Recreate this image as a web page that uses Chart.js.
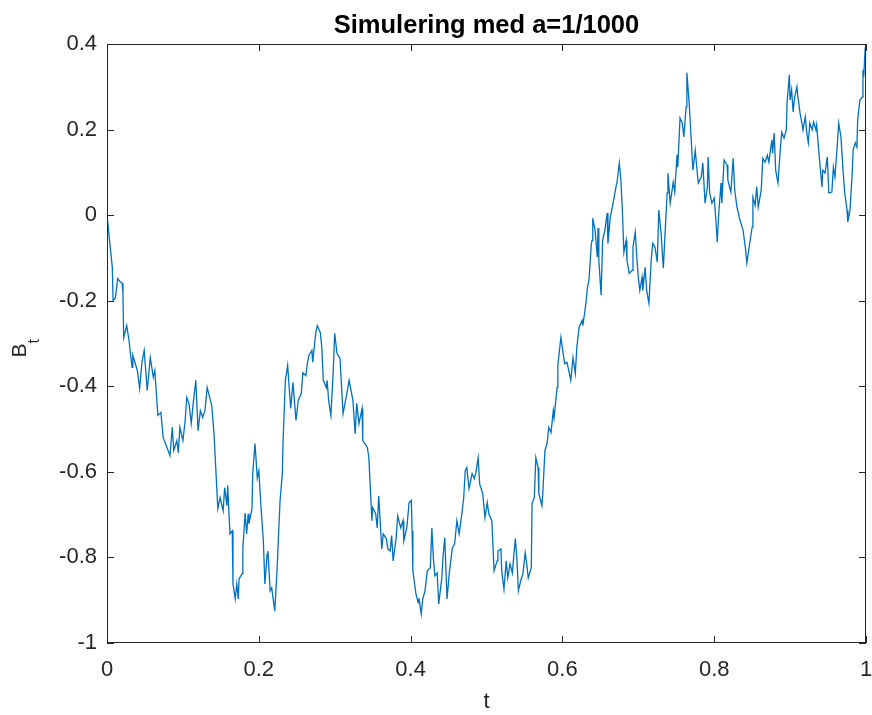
<!DOCTYPE html>
<html>
<head>
<meta charset="utf-8">
<title>Simulering med a=1/1000</title>
<script src="https://cdn.jsdelivr.net/npm/chart.js@4/dist/chart.umd.min.js"></script>
<style>
  html, body { margin: 0; padding: 0; background: #fff; }
  canvas { display: block; }
</style>
</head>
<body>
<canvas id="myChart" width="872" height="715"></canvas>
<script>
// values (t on x, B_t on y)
var tVals = [
  0.000, 0.004, 0.007, 0.008, 0.011, 0.014, 0.017, 0.020, 0.021, 0.022,
  0.026, 0.029, 0.033, 0.034, 0.040, 0.043, 0.046, 0.049, 0.053, 0.057,
  0.061, 0.063, 0.067, 0.071, 0.074, 0.079, 0.083, 0.086, 0.088, 0.092,
  0.094, 0.096, 0.100, 0.103, 0.105, 0.108, 0.111, 0.113, 0.117, 0.120,
  0.123, 0.126, 0.129, 0.132, 0.134, 0.138, 0.141, 0.146, 0.149, 0.153,
  0.155, 0.158, 0.159, 0.162, 0.165, 0.166, 0.169, 0.171, 0.173, 0.174,
  0.178, 0.179, 0.182, 0.184, 0.186, 0.187, 0.191, 0.192, 0.195, 0.198,
  0.200, 0.203, 0.206, 0.208, 0.211, 0.212, 0.215, 0.217, 0.221, 0.224,
  0.228, 0.231, 0.232, 0.235, 0.238, 0.242, 0.245, 0.249, 0.252, 0.256,
  0.258, 0.262, 0.264, 0.266, 0.270, 0.271, 0.275, 0.277, 0.281, 0.283,
  0.285, 0.289, 0.290, 0.292, 0.295, 0.298, 0.300, 0.303, 0.307, 0.311,
  0.316, 0.319, 0.324, 0.327, 0.329, 0.332, 0.336, 0.337, 0.343, 0.345,
  0.349, 0.350, 0.354, 0.356, 0.358, 0.362, 0.364, 0.368, 0.370, 0.373,
  0.375, 0.377, 0.381, 0.383, 0.387, 0.390, 0.391, 0.395, 0.398, 0.401,
  0.402, 0.403, 0.407, 0.410, 0.411, 0.414, 0.416, 0.419, 0.422, 0.426,
  0.428, 0.430, 0.432, 0.435, 0.437, 0.441, 0.443, 0.445, 0.448, 0.451,
  0.455, 0.458, 0.461, 0.464, 0.468, 0.470, 0.472, 0.474, 0.477, 0.481,
  0.484, 0.486, 0.489, 0.491, 0.495, 0.498, 0.501, 0.503, 0.507, 0.510,
  0.514, 0.515, 0.519, 0.520, 0.523, 0.526, 0.528, 0.531, 0.534, 0.538,
  0.540, 0.542, 0.545, 0.548, 0.551, 0.553, 0.555, 0.559, 0.560, 0.563,
  0.565, 0.568, 0.569, 0.573, 0.574, 0.577, 0.580, 0.582, 0.585, 0.588,
  0.589, 0.593, 0.594, 0.598, 0.601, 0.603, 0.606, 0.609, 0.611, 0.614,
  0.617, 0.619, 0.622, 0.626, 0.627, 0.631, 0.633, 0.635, 0.638, 0.639,
  0.640, 0.643, 0.646, 0.647, 0.648, 0.651, 0.653, 0.656, 0.659, 0.660,
  0.663, 0.665, 0.668, 0.671, 0.672, 0.675, 0.677, 0.679, 0.681, 0.684,
  0.685, 0.688, 0.692, 0.693, 0.696, 0.698, 0.700, 0.702, 0.705, 0.706,
  0.709, 0.711, 0.714, 0.717, 0.719, 0.722, 0.725, 0.727, 0.730, 0.733,
  0.735, 0.738, 0.739, 0.742, 0.744, 0.746, 0.748, 0.751, 0.752, 0.755,
  0.758, 0.760, 0.763, 0.764, 0.767, 0.769, 0.772, 0.775, 0.777, 0.779,
  0.783, 0.785, 0.788, 0.791, 0.792, 0.794, 0.797, 0.800, 0.802, 0.804,
  0.806, 0.809, 0.810, 0.813, 0.817, 0.818, 0.822, 0.825, 0.827, 0.830,
  0.834, 0.838, 0.841, 0.843, 0.846, 0.850, 0.851, 0.854, 0.856, 0.858,
  0.862, 0.864, 0.867, 0.870, 0.872, 0.876, 0.877, 0.879, 0.881, 0.884,
  0.887, 0.889, 0.892, 0.895, 0.896, 0.899, 0.900, 0.902, 0.904, 0.906,
  0.909, 0.910, 0.913, 0.916, 0.917, 0.920, 0.922, 0.924, 0.926, 0.929,
  0.931, 0.934, 0.935, 0.938, 0.942, 0.943, 0.946, 0.949, 0.951, 0.955,
  0.957, 0.959, 0.962, 0.964, 0.967, 0.970, 0.972, 0.975, 0.976, 0.979,
  0.982, 0.983, 0.986, 0.988, 0.989, 0.992, 0.995, 0.996, 0.997, 0.999,
  1.000
];

var bVals = [
   0.000, -0.070, -0.122, -0.199, -0.194, -0.148, -0.155, -0.159, -0.183, -0.286,
  -0.258, -0.293, -0.356, -0.328, -0.363, -0.405, -0.344, -0.316, -0.410, -0.333,
  -0.379, -0.363, -0.468, -0.461, -0.520, -0.543, -0.562, -0.496, -0.550, -0.527,
  -0.555, -0.496, -0.527, -0.480, -0.426, -0.440, -0.487, -0.450, -0.386, -0.504,
  -0.457, -0.473, -0.457, -0.403, -0.417, -0.445, -0.511, -0.686, -0.660, -0.691,
  -0.637, -0.679, -0.632, -0.745, -0.738, -0.862, -0.897, -0.862, -0.897, -0.850,
  -0.838, -0.778, -0.696, -0.745, -0.698, -0.721, -0.686, -0.604, -0.534, -0.614,
  -0.597, -0.684, -0.761, -0.862, -0.792, -0.785, -0.878, -0.871, -0.925, -0.831,
  -0.667, -0.604, -0.527, -0.386, -0.351, -0.452, -0.391, -0.480, -0.433, -0.417,
  -0.368, -0.375, -0.347, -0.328, -0.316, -0.344, -0.276, -0.258, -0.274, -0.309,
  -0.386, -0.403, -0.386, -0.433, -0.468, -0.368, -0.276, -0.323, -0.335, -0.464,
  -0.417, -0.386, -0.433, -0.511, -0.440, -0.487, -0.452, -0.527, -0.543, -0.567,
  -0.714, -0.684, -0.698, -0.731, -0.656, -0.780, -0.745, -0.756, -0.780, -0.785,
  -0.749, -0.808, -0.754, -0.703, -0.731, -0.714, -0.761, -0.731, -0.672, -0.667,
  -0.738, -0.831, -0.885, -0.906, -0.895, -0.932, -0.897, -0.878, -0.831, -0.824,
  -0.731, -0.801, -0.843, -0.836, -0.909, -0.850, -0.792, -0.754, -0.897, -0.836,
  -0.778, -0.768, -0.714, -0.745, -0.691, -0.660, -0.597, -0.590, -0.639, -0.604,
  -0.616, -0.602, -0.567, -0.628, -0.651, -0.707, -0.672, -0.698, -0.714, -0.831,
  -0.808, -0.785, -0.780, -0.831, -0.874, -0.808, -0.848, -0.815, -0.836, -0.756,
  -0.801, -0.878, -0.855, -0.838, -0.789, -0.815, -0.848, -0.824, -0.674, -0.660,
  -0.567, -0.590, -0.651, -0.679, -0.656, -0.550, -0.532, -0.496, -0.508, -0.457,
  -0.473, -0.403, -0.351, -0.286, -0.323, -0.347, -0.344, -0.368, -0.386, -0.333,
  -0.370, -0.309, -0.262, -0.246, -0.258, -0.206, -0.169, -0.152, -0.070, -0.059,
  -0.007, -0.035, -0.098, -0.030, -0.105, -0.187, -0.059, -0.035,  0.005, -0.066,
  -0.005,  0.012,  0.040,  0.070,  0.077,  0.122,  0.082,  0.012, -0.087, -0.059,
  -0.105, -0.136, -0.129, -0.075, -0.040, -0.098, -0.145, -0.176, -0.145, -0.176,
  -0.122, -0.176, -0.206, -0.105, -0.066, -0.075, -0.110,  0.012, -0.042, -0.124,
  -0.052,  0.052,  0.098,  0.028,  0.052,  0.077,  0.054,  0.141,  0.112,  0.227,
   0.215,  0.183,  0.253,  0.333,  0.262,  0.199,  0.105,  0.152,  0.112,  0.075,
   0.089,  0.122,  0.028,  0.066,  0.136,  0.052,  0.028,  0.040, -0.005, -0.063,
   0.005,  0.075,  0.028,  0.129,  0.117,  0.082,  0.054,  0.133,  0.059,  0.019,
  -0.012, -0.035, -0.075, -0.112, -0.075, -0.028,  0.042,  0.023,  0.066,  0.019,
   0.059,  0.133,  0.124,  0.140,  0.124,  0.176,  0.145,  0.192,  0.105,  0.075,
   0.152,  0.194,  0.180,  0.199,  0.262,  0.328,  0.269,  0.293,  0.241,  0.276,
   0.300,  0.281,  0.239,  0.211,  0.199,  0.230,  0.192,  0.169,  0.215,  0.199,
   0.218,  0.199,  0.211,  0.145,  0.066,  0.105,  0.098,  0.136,  0.052,  0.054,
   0.112,  0.089,  0.159,  0.215,  0.183,  0.098,  0.052,  0.012, -0.016,  0.012,
   0.105,  0.152,  0.169,  0.159,  0.222,  0.269,  0.276,  0.340,  0.323,  0.391,
   0.320
];

var xTicks = [0, 0.2, 0.4, 0.6, 0.8, 1];
var yTicks = [-1, -0.8, -0.6, -0.4, -0.2, 0, 0.2, 0.4];

var titleText  = 'Simulering med a=1/1000';
var fontFamily = '"Liberation Sans", Arial, Helvetica, sans-serif';
var axisColor  = '#262626';

function fmtTick(v) {
  return String(Math.round(v * 10) / 10);
}

// MATLAB-like axes: full box, inward ticks on all sides, title over the plot, B_t label
var axesBox = {
  id: 'axesBox',
  afterDraw: function(chart) {
    var ctx = chart.ctx,
        a   = chart.chartArea,
        xs  = chart.scales.x,
        ys  = chart.scales.y,
        len = 7;

    ctx.save();
    ctx.strokeStyle = axisColor;
    ctx.lineWidth = 1;
    ctx.strokeRect(Math.round(a.left) + 0.5, Math.round(a.top) + 0.5,
                   Math.round(a.right - a.left) - 1, Math.round(a.bottom - a.top) - 1);

    ctx.beginPath();
    xs.ticks.forEach(function(t, i) {
      var px = Math.round(xs.getPixelForTick(i)) + 0.5;
      ctx.moveTo(px, a.bottom);  ctx.lineTo(px, a.bottom - len);
      ctx.moveTo(px, a.top);     ctx.lineTo(px, a.top + len);
    });
    ys.ticks.forEach(function(t, i) {
      var py = Math.round(ys.getPixelForTick(i)) + 0.5;
      ctx.moveTo(a.left, py);    ctx.lineTo(a.left + len, py);
      ctx.moveTo(a.right, py);   ctx.lineTo(a.right - len, py);
    });
    ctx.stroke();

    // title, centred over the plot box
    ctx.fillStyle = '#000';
    ctx.font = 'bold 25.5px ' + fontFamily;
    ctx.textAlign = 'center';
    ctx.textBaseline = 'alphabetic';
    ctx.fillText(titleText, (a.left + a.right) / 2, 33);

    // y label B with subscript t
    ctx.fillStyle = axisColor;
    ctx.textAlign = 'left';
    ctx.translate(26, (a.top + a.bottom) / 2 + 14);
    ctx.rotate(-Math.PI / 2);
    ctx.font = '21px ' + fontFamily;
    ctx.fillText('B', 0, 0);
    var w = ctx.measureText('B').width;
    ctx.font = '16px ' + fontFamily;
    ctx.fillText('t', w, 13);
    ctx.restore();
  }
};

var points = tVals.map(function(t, i) { return { x: t, y: bVals[i] }; });

var myChart = new Chart(document.getElementById('myChart'), {
  type: 'line',
  data: {
    datasets: [{
      data: points,
      borderColor: '#0072BD',
      borderWidth: 1.3,
      pointRadius: 0,
      tension: 0,
      fill: false
    }]
  },
  options: {
    responsive: false,
    animation: false,
    devicePixelRatio: 1,
    layout: { padding: { left: 0, right: 6, top: 44, bottom: 0 } },
    plugins: {
      legend: { display: false },
      tooltip: { enabled: false },
      title: { display: false }
    },
    scales: {
      x: {
        type: 'linear',
        min: 0,
        max: 1,
        grid: { display: false, drawTicks: false },
        border: { display: false },
        afterBuildTicks: function(scale) {
          scale.ticks = xTicks.map(function(v) { return { value: v }; });
        },
        afterFit: function(scale) {
          scale.height = 72;
          scale.paddingLeft = 0;
          scale.paddingRight = 0;
        },
        ticks: {
          color: axisColor,
          padding: 14,
          maxRotation: 0,
          autoSkip: false,
          font: { family: fontFamily, size: 22 },
          callback: fmtTick
        },
        title: {
          display: true,
          text: 't',
          color: axisColor,
          padding: { top: 0, bottom: 0 },
          font: { family: fontFamily, size: 22 }
        }
      },
      y: {
        min: -1,
        max: 0.4,
        grid: { display: false, drawTicks: false },
        border: { display: false },
        afterBuildTicks: function(scale) {
          scale.ticks = yTicks.map(function(v) { return { value: v }; });
        },
        afterFit: function(scale) { scale.width = 107; },
        ticks: {
          color: axisColor,
          padding: 10,
          autoSkip: false,
          font: { family: fontFamily, size: 22 },
          callback: fmtTick
        }
      }
    }
  },
  plugins: [axesBox]
});
</script>
</body>
</html>
